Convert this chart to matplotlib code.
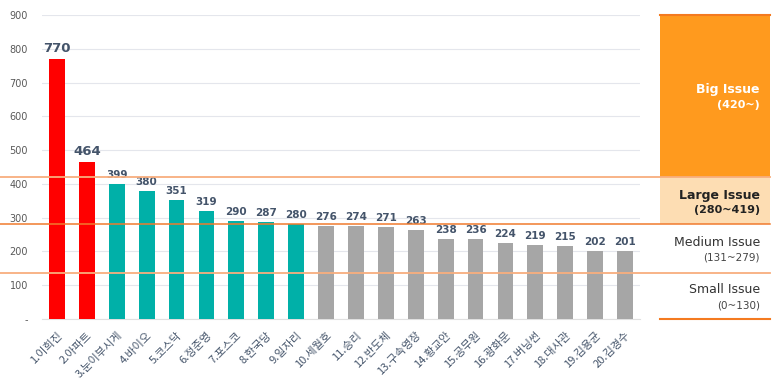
import matplotlib
matplotlib.use("Agg")
import matplotlib.pyplot as plt
from matplotlib.patches import Rectangle
from matplotlib.transforms import blended_transform_factory

plt.rcParams['font.family'] = ['Noto Sans CJK KR', 'DejaVu Sans']

categories = ["1.이희진", "2.아파트", "3.눈이부시게", "4.바이오", "5.코스닥", "6.정준영", "7.포스코",
              "8.한국당", "9.일자리", "10.세월호", "11.승리", "12.반도체", "13.구속영장", "14.황교안",
              "15.공무원", "16.광화문", "17.버닝썬", "18.대사관", "19.김용균", "20.김경수"]
values = [770, 464, 399, 380, 351, 319, 290, 287, 280, 276, 274, 271, 263, 238, 236, 224, 219, 215, 202, 201]
yticks = [0, 100, 200, 300, 400, 500, 600, 700, 800, 900]
ytick_labels = ["-", "100", "200", "300", "400", "500", "600", "700", "800", "900"]
thresholds = [420, 280, 137]
band_labels = [("Big Issue", "(420~)"), ("Large Issue", "(280~419)"),
               ("Medium Issue", "(131~279)"), ("Small Issue", "(0~130)")]

def color_for(v):
    if v >= 420:
        return "#FF0000"
    if v >= 280:
        return "#00B0A8"
    return "#A6A6A6"

W, H = 773, 386
fig = plt.figure(figsize=(W / 100, H / 100), dpi=100)
ax = fig.add_axes([42 / W, 1 - 319 / H, 598 / W, (319 - 15) / H])

x = list(range(len(values)))
ax.bar(x, values, width=0.53, color=[color_for(v) for v in values], zorder=3)
ax.set_xlim(-0.5, len(values) - 0.5)
ax.set_ylim(0, 900)
ax.set_yticks(yticks)
ax.set_yticklabels(ytick_labels, fontsize=7, color="#595959", family=['DejaVu Sans'])
ax.grid(axis="y", color="#E4E6EC", linewidth=0.8, zorder=0)
for s in ["top", "right", "left"]:
    ax.spines[s].set_visible(False)
ax.spines["bottom"].set_color("#E0E0E0")
ax.tick_params(axis="both", length=0)
ax.tick_params(axis="y", pad=10)
ax.tick_params(axis="x", pad=8)
ax.set_xticks(x)
ax.set_xticklabels(categories, rotation=45, ha="right", rotation_mode="anchor",
                   fontsize=8, color="#44546A")

for i, v in enumerate(values):
    big = v >= 420
    ax.text(i, v + 12, str(v), ha="center", va="bottom",
            fontsize=9.5 if big else 7.5, fontweight="bold", color="#44546A",
            family=['DejaVu Sans'])

tr = blended_transform_factory(fig.transFigure, ax.transData)
x0, x1 = 660 / W, 770 / W
# Legend bands
ax.add_patch(Rectangle((x0, 420), x1 - x0, 480, transform=tr, facecolor="#FF9A1E",
                       edgecolor="none", clip_on=False, zorder=1))
ax.add_patch(Rectangle((x0, 280), x1 - x0, 140, transform=tr, facecolor="#FDDDB3",
                       edgecolor="none", clip_on=False, zorder=1))
ax.plot([x0, x1], [900, 900], transform=tr, color="#F47A20", lw=1.5, clip_on=False, zorder=4)
ax.plot([x0, x1], [0, 0], transform=tr, color="#F47A20", lw=1.5, clip_on=False, zorder=4)

# Threshold lines
ax.plot([0, x1], [thresholds[0], thresholds[0]], transform=tr, color="#F8AE7E", lw=1.3,
        clip_on=False, zorder=4)
ax.plot([0, x1], [thresholds[1], thresholds[1]], transform=tr, color="#F07B2E", lw=1.1,
        clip_on=False, zorder=4)
ax.plot([0, x1], [thresholds[2], thresholds[2]], transform=tr, color="#F8AE7E", lw=1.3,
        clip_on=False, zorder=4)

tx = 760 / W
ax.text(tx, 678, band_labels[0][0], transform=tr, ha="right", va="center", fontsize=9,
        fontweight="bold", color="white", family=['DejaVu Sans'])
ax.text(tx, 633, band_labels[0][1], transform=tr, ha="right", va="center", fontsize=8,
        fontweight="bold", color="white", family=['DejaVu Sans'])
ax.text(tx, 367, band_labels[1][0], transform=tr, ha="right", va="center", fontsize=9,
        fontweight="bold", color="#222222", family=['DejaVu Sans'])
ax.text(tx, 323, band_labels[1][1], transform=tr, ha="right", va="center", fontsize=8,
        fontweight="bold", color="#222222", family=['DejaVu Sans'])
ax.text(tx, 225, band_labels[2][0], transform=tr, ha="right", va="center", fontsize=9,
        color="#333333", family=['DejaVu Sans'])
ax.text(tx, 181, band_labels[2][1], transform=tr, ha="right", va="center", fontsize=7.5,
        color="#444444", family=['DejaVu Sans'])
ax.text(tx, 86, band_labels[3][0], transform=tr, ha="right", va="center", fontsize=9,
        color="#333333", family=['DejaVu Sans'])
ax.text(tx, 41, band_labels[3][1], transform=tr, ha="right", va="center", fontsize=7.5,
        color="#444444", family=['DejaVu Sans'])

fig.savefig("out.png", dpi=100)
